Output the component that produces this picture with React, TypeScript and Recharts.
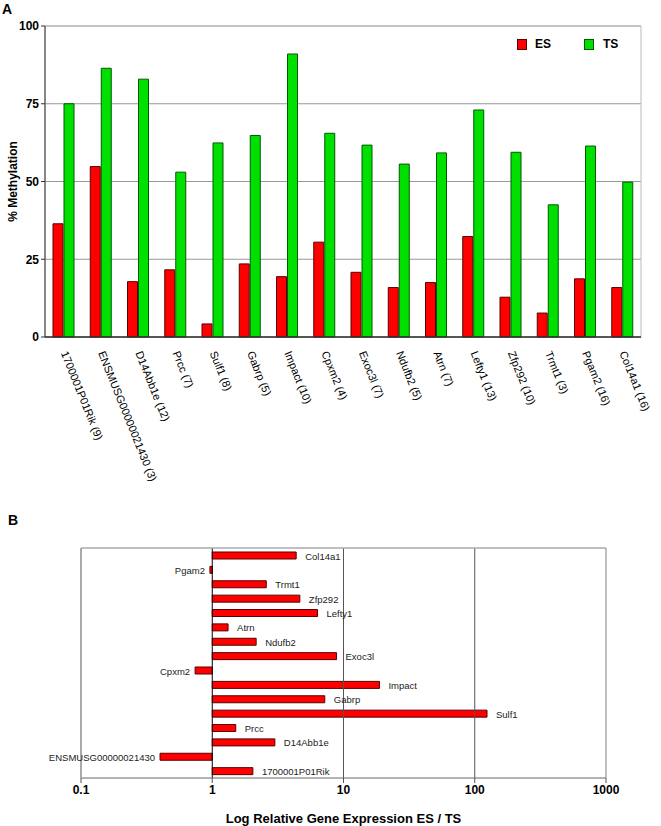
import React from 'react';
import {
  BarChart, Bar, XAxis, YAxis, CartesianGrid, ReferenceLine, ReferenceArea, LabelList,
} from 'recharts';

const genes = [
  '1700001P01Rik', 'ENSMUSG00000021430', 'D14Abb1e', 'Prcc', 'Sulf1', 'Gabrp', 'Impact', 'Cpxm2',
  'Exoc3l', 'Ndufb2', 'Atrn', 'Lefty1', 'Zfp292', 'Trmt1', 'Pgam2', 'Col14a1',
];
const cpgCounts = [9, 3, 12, 7, 8, 5, 10, 4, 7, 5, 7, 13, 10, 3, 16, 16];
const esMethylation = [36.4, 54.8, 17.8, 21.6, 4.2, 23.5, 19.4, 30.5, 20.8, 15.9, 17.5, 32.3, 12.8, 7.7, 18.7, 15.9];
const tsMethylation = [75, 86.4, 82.9, 53, 62.4, 64.8, 91, 65.5, 61.7, 55.6, 59.2, 73, 59.4, 42.5, 61.4, 49.8];
const expressionRatio = [2.04, 0.4, 3.0, 1.51, 124, 7.2, 18.8, 0.74, 8.85, 2.16, 1.32, 6.34, 4.65, 2.58, 0.96, 4.36];

const methylTicks = [0, 25, 50, 75, 100];
const logTicks = [0.1, 1, 10, 100, 1000];

const FONT = '"Liberation Sans", Arial, sans-serif';
const RED = '#ff0000';
const RED_EDGE = '#5a0000';
const GREEN = '#00e000';
const GREEN_EDGE = '#005a00';

const methylData = genes.map((g, i) => ({
  label: `${g} (${cpgCounts[i]})`,
  ES: esMethylation[i],
  TS: tsMethylation[i],
}));

// bars of the log chart run from 1 to the ratio, either side
const exprData = genes
  .map((g, i) => ({
    name: g,
    ratio: expressionRatio[i],
    span: [Math.min(1, expressionRatio[i]), Math.max(1, expressionRatio[i])],
  }))
  .reverse();

const GeneTick = (props: any) => {
  const { x, y, payload } = props;
  return (
    <text
      x={x - 3}
      y={y + 8}
      transform={`rotate(68 ${x - 3} ${y + 8})`}
      textAnchor="start"
      fontFamily={FONT}
      fontSize={11}
      fill="#000"
    >
      {payload.value}
    </text>
  );
};

const MethylLegend = () => (
  <div style={{ position: 'absolute', left: 517, top: 37, display: 'flex', fontFamily: FONT, fontWeight: 'bold', fontSize: 12 }}>
    <div style={{ display: 'flex', alignItems: 'center', marginRight: 33 }}>
      <span style={{ width: 8, height: 9, background: RED, border: `1px solid ${RED_EDGE}`, marginRight: 8 }} />
      ES
    </div>
    <div style={{ display: 'flex', alignItems: 'center' }}>
      <span style={{ width: 8, height: 9, background: GREEN, border: `1px solid ${GREEN_EDGE}`, marginRight: 9 }} />
      TS
    </div>
  </div>
);

const GeneLabel = (props: any) => {
  const { x, y, width, height, index } = props;
  const row = exprData[index];
  const cy = y + height / 2 + 4;
  if (row.ratio >= 1) {
    return (
      <text x={x + width + 9} y={cy} textAnchor="start" fontFamily={FONT} fontSize={9.5} fill="#222">
        {row.name}
      </text>
    );
  }
  return (
    <text x={x - 5} y={cy} textAnchor="end" fontFamily={FONT} fontSize={9.5} fill="#222">
      {row.name}
    </text>
  );
};

const panelLetter = (ch: string, left: number, top: number) => (
  <div style={{ position: 'absolute', left, top, fontFamily: FONT, fontWeight: 'bold', fontSize: 14 }}>{ch}</div>
);

export default function App() {
  return (
    <div style={{ position: 'absolute', left: 0, top: 0, width: 661, height: 826, background: '#fff' }}>
      {panelLetter('A', 2, 1)}
      <div style={{ position: 'absolute', left: 0, top: 0 }}>
        <BarChart
          width={661}
          height={490}
          data={methylData}
          margin={{ top: 26, right: 20, left: 0, bottom: 0 }}
          barSize={10}
          barGap={1}
        >
          <CartesianGrid vertical={false} stroke="#999" strokeWidth={1.2} />
          <XAxis
            dataKey="label"
            interval={0}
            height={153}
            tick={<GeneTick />}
            tickLine={false}
            axisLine={{ stroke: '#333' }}
          />
          <YAxis
            domain={[0, 100]}
            ticks={methylTicks}
            width={45}
            tickSize={4}
            tickLine={{ stroke: '#333' }}
            axisLine={{ stroke: '#333' }}
            tick={{ fontFamily: FONT, fontWeight: 'bold', fontSize: 12, fill: '#000' }}
            label={{
              value: '% Methylation', angle: -90, position: 'insideLeft', dx: 8,
              style: { fontFamily: FONT, fontWeight: 'bold', fontSize: 12, fill: '#000', textAnchor: 'middle' },
            }}
          />
          <ReferenceArea y1={0} y2={100} fill="none" stroke="#bbb" ifOverflow="visible" />
          <Bar dataKey="ES" fill={RED} stroke={RED_EDGE} strokeWidth={1} isAnimationActive={false} />
          <Bar dataKey="TS" fill={GREEN} stroke={GREEN_EDGE} strokeWidth={1} isAnimationActive={false} />
          <ReferenceLine y={0} stroke="#333" />
        </BarChart>
      </div>
      <MethylLegend />

      {panelLetter('B', 8, 512)}
      <div style={{ position: 'absolute', left: 0, top: 520 }}>
        <BarChart
          width={661}
          height={306}
          data={exprData}
          layout="vertical"
          margin={{ top: 27, right: 55, left: 80, bottom: 0 }}
          barSize={7}
        >
          <XAxis
            xAxisId="top"
            orientation="top"
            type="number"
            scale="log"
            domain={[0.1, 1000]}
            height={1}
            tick={false}
            tickLine={false}
            axisLine={{ stroke: '#aaa', strokeWidth: 1.5 }}
          />
          <XAxis
            type="number"
            scale="log"
            domain={[0.1, 1000]}
            ticks={logTicks}
            allowDataOverflow
            height={48}
            tickSize={5}
            tickLine={{ stroke: '#555' }}
            axisLine={{ stroke: '#666' }}
            tickFormatter={(v: number) => String(v)}
            tick={{ fontFamily: FONT, fontWeight: 'bold', fontSize: 12, fill: '#000' }}
            label={{
              value: 'Log Relative Gene Expression ES / TS', position: 'insideBottom', offset: 3,
              style: { fontFamily: FONT, fontWeight: 'bold', fontSize: 13, fill: '#000' },
            }}
          />
          <YAxis
            type="category"
            dataKey="name"
            width={1}
            tick={false}
            axisLine={{ stroke: '#aaa', strokeWidth: 2 }}
          />
          <ReferenceLine x={logTicks[2]} stroke="#555" />
          <ReferenceLine x={logTicks[3]} stroke="#555" />
          <ReferenceLine x={logTicks[4]} stroke="#aaa" strokeWidth={1.5} ifOverflow="visible" />
          <Bar dataKey="span" fill={RED} stroke={RED_EDGE} strokeWidth={1} isAnimationActive={false}>
            <LabelList dataKey="name" content={<GeneLabel />} />
          </Bar>
          <ReferenceLine x={logTicks[1]} stroke="#000" />
        </BarChart>
      </div>
    </div>
  );
}
